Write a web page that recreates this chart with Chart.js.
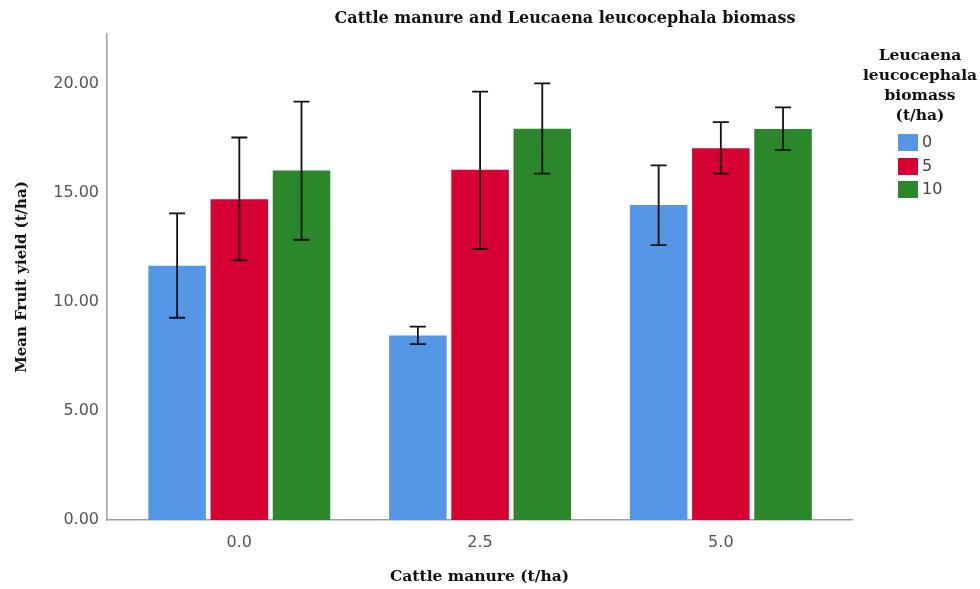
<!DOCTYPE html>
<html>
<head>
<meta charset="utf-8">
<script src="https://cdn.jsdelivr.net/npm/chart.js@4.4.1/dist/chart.umd.min.js"></script>
<style>
  html, body { margin: 0; padding: 0; background: #fff; }
  #wrap { position: relative; width: 980px; height: 589px; overflow: hidden; }
  #c { position: absolute; left: 0; top: 0; }
  .serif { font-family: "DejaVu Serif", "Liberation Serif", serif; font-weight: bold; color: #111; }
  #title { position: absolute; left: 265px; width: 600px; top: 8px; text-align: center; font-size: 16px; line-height: 20px; }
  #legTitle { position: absolute; left: 855px; width: 130px; top: 45px; text-align: center; font-size: 15.5px; line-height: 20px; }
  .legItem { position: absolute; left: 898px; height: 17px; font-family: "DejaVu Sans", sans-serif; font-size: 16px; color: #444; }
  .legItem span.sw { position: absolute; left: 0; top: 0; width: 20px; height: 17px; }
  .legItem span.tx { position: absolute; left: 24px; top: -2px; line-height: 20px; }
</style>
</head>
<body>
<div id="wrap">
  <canvas id="c" width="980" height="589"></canvas>
  <div id="title" class="serif">Cattle manure and Leucaena leucocephala biomass</div>
  <div id="legTitle" class="serif">Leucaena<br>leucocephala<br>biomass<br>(t/ha)</div>
  <div id="legend"></div>
</div>
<script>
// ---- data ----
const categories = [0, 2.5, 5];               // Cattle manure (t/ha)
const seriesNames = ['0', '5', '10'];          // Leucaena leucocephala biomass (t/ha)
const meanL0  = [11.67, 8.47, 14.45];
const meanL5  = [14.72, 16.07, 17.06];
const meanL10 = [16.04, 17.95, 17.94];
const upperL0  = [14.07, 8.87, 16.27];
const lowerL0  = [9.28, 8.07, 12.61];
const upperL5  = [17.55, 19.66, 18.26];
const lowerL5  = [11.91, 12.43, 15.89];
const upperL10 = [19.20, 20.03, 18.93];
const lowerL10 = [12.86, 15.89, 16.97];
const yTicks = [0, 5, 10, 15, 20];

const colors = ['#5596e6', '#d60032', '#2a882a'];
const means = [meanL0, meanL5, meanL10];
const uppers = [upperL0, upperL5, upperL10];
const lowers = [lowerL0, lowerL5, lowerL10];

// legend (HTML)
const leg = document.getElementById('legend');
seriesNames.forEach((n, i) => {
  const d = document.createElement('div');
  d.className = 'legItem';
  d.style.top = (134 + i * 23.5) + 'px';
  d.innerHTML = '<span class="sw" style="background:' + colors[i] + '"></span><span class="tx">' + n + '</span>';
  leg.appendChild(d);
});

const errorBars = {
  id: 'errorBars',
  afterDatasetsDraw(chart) {
    const ctx = chart.ctx;
    const ys = chart.scales.y;
    ctx.save();
    ctx.strokeStyle = '#111';
    ctx.lineWidth = 1.8;
    chart.data.datasets.forEach((ds, i) => {
      const meta = chart.getDatasetMeta(i);
      meta.data.forEach((bar, j) => {
        const x = bar.x;
        const yt = ys.getPixelForValue(uppers[i][j]);
        const yb = ys.getPixelForValue(lowers[i][j]);
        const cap = 8;
        ctx.beginPath();
        ctx.moveTo(x, yt); ctx.lineTo(x, yb);
        ctx.moveTo(x - cap, yt); ctx.lineTo(x + cap, yt);
        ctx.moveTo(x - cap, yb); ctx.lineTo(x + cap, yb);
        ctx.stroke();
      });
    });
    ctx.restore();
  }
};

new Chart(document.getElementById('c'), {
  type: 'bar',
  data: {
    labels: categories,
    datasets: seriesNames.map((n, i) => ({
      label: n,
      data: means[i],
      backgroundColor: colors[i],
      borderWidth: 0,
      categoryPercentage: 0.775,
      barPercentage: 0.925
    }))
  },
  options: {
    responsive: false,
    animation: false,
    layout: { padding: { left: 0, right: 128, top: 34, bottom: 0 } },
    plugins: { legend: { display: false }, title: { display: false }, tooltip: { enabled: false } },
    scales: {
      x: {
        type: 'linear',
        min: -1.374,
        max: 6.362,
        offset: false,
        grid: { display: false, drawTicks: false },
        border: { display: true, color: '#a0a0a0', width: 1.5 },
        afterBuildTicks: (s) => { s.ticks = categories.map(v => ({ value: v })); },
        afterFit: (s) => { s.height = 69; },
        ticks: {
          padding: 13,
          color: '#555',
          font: { family: 'DejaVu Sans', size: 16 },
          callback: (v) => Number(v).toFixed(1)
        },
        title: {
          display: true,
          text: 'Cattle manure (t/ha)',
          color: '#111',
          font: { family: 'DejaVu Serif', weight: 'bold', size: 15.5 },
          padding: { top: 0, bottom: 3 }
        }
      },
      y: {
        min: 0,
        max: 22.3,
        grid: { display: false, drawTicks: false },
        border: { display: true, color: '#a0a0a0', width: 1.5 },
        afterBuildTicks: (s) => { s.ticks = yTicks.map(v => ({ value: v })); },
        afterFit: (s) => { s.width = 107; },
        ticks: {
          padding: 8,
          color: '#555',
          font: { family: 'DejaVu Sans', size: 16 },
          callback: (v) => Number(v).toFixed(2)
        },
        title: {
          display: true,
          text: 'Mean Fruit yield (t/ha)',
          color: '#111',
          font: { family: 'DejaVu Serif', weight: 'bold', size: 15 },
          padding: { top: 13, bottom: 0 }
        }
      }
    }
  },
  plugins: [errorBars]
});
</script>
</body>
</html>
